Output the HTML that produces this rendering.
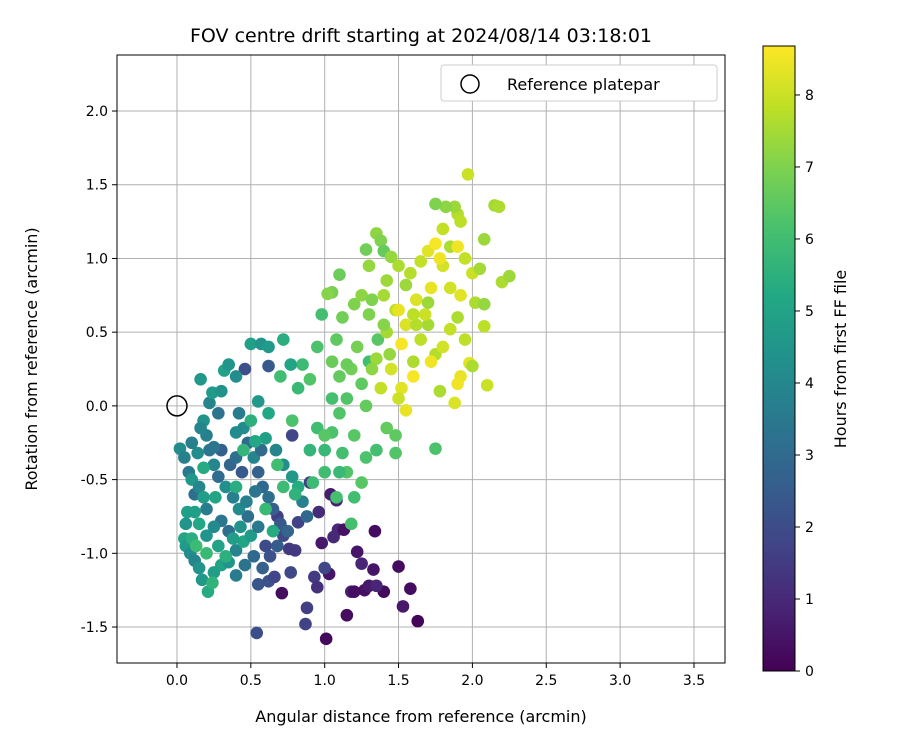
<!DOCTYPE html>
<html><head><meta charset="utf-8"><style>
body{margin:0;background:#fff;font-family:"DejaVu Sans","Liberation Sans",sans-serif}
svg text{font-family:"DejaVu Sans","Liberation Sans",sans-serif;fill:#000}
</style></head><body>
<svg id="chart" width="900" height="750" viewBox="0 0 900 750" xmlns="http://www.w3.org/2000/svg">
<defs><linearGradient id="vir" x1="0" y1="1" x2="0" y2="0">
<stop offset="0" stop-color="#440154"/><stop offset="0.1" stop-color="#482475"/><stop offset="0.2" stop-color="#414487"/><stop offset="0.3" stop-color="#355f8d"/><stop offset="0.4" stop-color="#2a788e"/><stop offset="0.5" stop-color="#21918c"/><stop offset="0.6" stop-color="#22a884"/><stop offset="0.7" stop-color="#44bf70"/><stop offset="0.8" stop-color="#7ad151"/><stop offset="0.9" stop-color="#bddf26"/><stop offset="1" stop-color="#fde725"/>
</linearGradient>
<clipPath id="clip"><rect x="117" y="55" width="608" height="608"/></clipPath></defs>
<text x="421" y="42" font-size="19" text-anchor="middle">FOV centre drift starting at 2024/08/14 03:18:01</text>
<g id="grid"></g>
<g id="points" clip-path="url(#clip)"></g>
<circle id="refpt" r="10" fill="none" stroke="#000" stroke-width="1.5"/>
<rect x="117" y="55" width="608" height="608" fill="none" stroke="#000" stroke-width="1"/>
<g id="ticks"></g>
<text x="421" y="722" font-size="16" text-anchor="middle">Angular distance from reference (arcmin)</text>
<text transform="translate(37,359) rotate(-90)" font-size="16" text-anchor="middle">Rotation from reference (arcmin)</text>
<g>
<rect x="441" y="65" width="276" height="36" rx="3" fill="#fff" stroke="#ccc"/>
<circle cx="470" cy="84" r="9" fill="none" stroke="#000" stroke-width="1.5"/>
<text x="507" y="90" font-size="16">Reference platepar</text>
</g>
<rect x="763" y="46" width="32" height="625" fill="url(#vir)" stroke="#000" stroke-width="1"/>
<g id="cbticks"></g>
<text transform="translate(846,359) rotate(-90)" font-size="16" text-anchor="middle">Hours from first FF file</text>
</svg>
<script>
const xTicks=[0.0,0.5,1.0,1.5,2.0,2.5,3.0,3.5];
const yTicks=[-1.5,-1.0,-0.5,0.0,0.5,1.0,1.5,2.0];
const cbTicks=[0,1,2,3,4,5,6,7,8];
const xs=[0.71,1.01,1.15,1.27,1.40,1.53,1.58,1.63,1.34,1.50,1.22,1.30,1.08,1.04,1.03,1.18,1.25,1.33,1.09,0.96,0.98,1.06,1.13,0.93,0.95,1.00,0.88,0.87,0.77,0.54,0.62,0.66,0.55,0.60,0.80,0.82,0.72,0.68,0.90,0.78,0.46,0.62,0.76,1.35,1.20,
0.02,0.05,0.08,0.10,0.12,0.15,0.18,0.20,0.07,0.06,0.05,0.06,0.09,0.12,0.15,0.17,0.21,0.25,0.30,0.35,0.40,0.45,0.50,0.55,0.48,0.42,0.38,0.33,0.28,0.25,0.22,0.20,0.18,0.16,0.22,0.24,0.28,0.32,0.35,0.42,0.45,0.48,0.52,0.55,0.58,0.62,0.65,0.70,0.75,0.68,0.63,0.58,0.52,0.46,0.40,0.35,0.30,0.25,0.20,0.15,0.12,0.10,0.28,0.33,0.38,0.43,0.47,0.53,0.57,0.60,0.55,0.53,0.50,0.57,0.62,0.72,0.67,0.72,0.78,0.82,0.85,0.88,0.80,0.30,0.36,0.40,0.44,0.26,0.18,0.14,0.10,0.20,0.24,0.13,0.40,0.45,0.50,0.62,0.70,0.60,0.65,0.72,0.68,0.78,0.82,0.90,0.85,0.95,0.98,0.90,0.95,1.00,1.05,1.00,1.08,0.92,1.12,1.15,1.20,1.25,1.18,1.28,1.35,1.48,1.48,1.42,1.36,1.30,1.25,1.15,1.10,1.05,1.08,1.12,1.05,1.10,1.02,1.20,1.25,1.30,1.28,1.35,1.38,1.40,1.45,1.50,1.55,1.48,1.42,1.35,1.38,1.32,1.45,1.52,1.55,1.50,1.60,1.65,1.70,1.75,1.80,1.85,1.90,1.95,1.98,2.00,1.92,1.88,1.90,1.78,1.72,1.68,1.62,1.58,1.65,1.70,1.75,1.72,1.80,1.85,1.90,1.95,2.00,2.05,2.08,2.02,2.08,2.08,2.15,2.18,2.20,2.25,1.97,1.90,1.88,1.92,1.82,1.75,1.80,1.92,1.85,1.55,1.60,1.50,1.44,1.40,1.40,1.30,1.22,1.18,1.28,1.20,1.10,1.05,1.10,1.00,1.75,1.15,1.62,1.70,2.10,1.78,1.52,1.60,1.42,1.32,0.77,0.30,0.40,0.16,0.25,0.40];
const ys=[-1.27,-1.58,-1.42,-1.25,-1.26,-1.36,-1.24,-1.46,-0.85,-1.09,-0.99,-1.22,-0.64,-0.60,-1.14,-1.26,-1.07,-1.11,-0.84,-0.72,-0.93,-0.89,-0.84,-1.16,-1.23,-1.10,-1.37,-1.48,-1.13,-1.54,-1.19,-1.16,-1.21,-0.95,-0.98,-0.79,-0.88,-0.75,-0.52,-0.20,0.25,0.27,-0.97,-1.22,-1.26,
-0.29,-0.35,-0.45,-0.50,-0.60,-0.55,-0.62,-0.70,-0.72,-0.80,-0.90,-0.95,-1.00,-1.05,-1.10,-1.18,-1.26,-1.13,-1.08,-1.06,-0.98,-0.92,-0.88,-0.82,-0.75,-0.70,-0.62,-0.55,-0.48,-0.40,-0.30,-0.20,-0.10,0.18,0.02,0.09,-0.05,0.24,0.28,-0.05,-0.15,-0.25,-0.35,-0.45,-0.55,-0.62,-0.70,-0.80,-0.85,-0.95,-1.02,-1.10,-1.02,-1.08,-1.15,-0.85,-0.78,-0.82,-0.88,-0.80,-0.72,-0.90,-0.95,-1.02,-0.90,-0.82,-0.65,-0.58,-0.30,-0.22,0.03,-0.24,0.42,0.42,0.40,0.45,-0.30,-0.40,-0.48,-0.55,-0.65,-0.75,-0.60,-0.30,-0.40,-0.35,-0.45,-0.62,-0.42,-0.32,-0.25,-1.00,-1.20,-0.95,-0.55,-0.30,-0.10,-0.05,0.20,-0.70,-0.85,-0.55,-0.40,-0.10,0.12,0.18,0.28,0.40,0.62,-0.30,-0.15,-0.30,-0.18,-0.45,-0.62,-0.52,-0.32,-0.45,-0.62,-0.52,-0.80,-0.35,-0.30,-0.20,-0.32,-0.15,0.45,0.30,0.15,0.05,0.20,0.30,0.45,0.60,0.77,0.89,0.76,0.69,0.75,0.95,1.06,1.17,1.12,1.05,1.01,0.95,0.82,0.65,0.50,0.32,0.12,0.25,0.25,0.12,-0.03,0.05,0.30,0.45,0.55,0.35,0.40,0.52,0.60,0.45,0.29,0.27,0.20,0.02,0.15,0.10,0.30,0.62,0.72,0.90,0.98,1.05,1.10,0.80,0.95,1.08,1.08,1.00,0.90,0.93,1.13,0.70,0.54,0.69,1.36,1.35,0.84,0.88,1.57,1.30,1.35,1.25,1.35,1.37,1.20,0.75,0.80,0.55,0.20,0.65,0.35,0.75,0.55,0.62,0.40,0.25,0.00,-0.20,-0.05,0.05,-0.45,-0.20,-0.29,0.28,0.55,0.70,0.14,1.00,0.42,0.62,0.85,0.72,0.28,0.10,0.20,-0.15,-0.28,-0.18];
const hs=[0.3,0.2,0.3,0.4,0.2,0.6,0.3,0.1,0.3,0.3,0.5,0.6,0.8,0.7,0.5,0.8,0.9,0.5,1.0,1.1,0.6,1.0,0.4,1.5,1.2,1.8,1.6,1.7,1.9,2.1,2.2,1.8,2.3,2.0,1.5,1.7,1.9,1.6,1.6,1.8,2.1,2.4,1.4,0.9,0.3,
4.2,3.8,3.5,4.6,3.2,4.0,4.8,3.6,4.9,4.5,5.1,4.7,4.2,3.9,4.4,4.6,5.3,4.8,5.0,4.5,3.9,5.1,4.7,3.5,3.2,4.1,3.7,4.3,3.1,4.0,3.4,3.8,4.4,4.6,3.9,4.7,3.3,5.0,4.5,3.6,4.2,3.0,3.9,2.7,2.9,3.2,2.6,2.4,2.8,2.5,2.2,2.7,2.9,3.3,3.6,3.1,3.4,4.1,4.5,5.2,4.9,5.4,5.0,5.5,4.8,4.4,3.8,3.4,3.0,4.9,4.6,5.2,4.9,4.5,4.7,5.4,3.9,4.3,4.6,5.3,3.7,2.9,5.6,2.6,2.8,3.2,2.4,5.1,5.3,4.2,3.7,5.8,5.6,5.9,5.4,5.7,5.5,5.2,6.0,5.8,5.3,5.9,6.0,6.2,5.8,6.3,5.9,6.2,6.1,5.7,6.0,5.8,6.2,6.0,6.1,5.9,6.1,6.3,6.0,6.4,6.1,6.2,6.1,6.5,6.3,6.6,6.4,6.0,6.5,6.3,6.6,6.7,6.5,6.8,6.9,6.7,7.1,7.0,7.2,7.3,6.8,7.2,7.0,6.6,7.3,7.6,7.4,7.8,7.5,7.4,7.9,7.2,8.1,8.3,8.4,8.0,7.6,7.8,7.5,7.7,8.1,7.9,7.6,7.8,8.3,7.6,8.4,8.2,8.5,7.6,8.5,8.0,8.2,7.7,7.9,8.3,8.6,8.4,8.1,7.6,8.5,7.9,8.0,7.5,7.4,7.6,7.8,7.3,7.5,7.6,7.6,7.4,8.0,7.7,7.4,7.8,7.2,7.0,7.9,8.3,8.1,8.2,8.6,8.4,7.3,7.5,7.1,7.0,6.9,6.8,6.6,6.4,6.3,6.1,5.8,6.4,6.2,6.7,7.7,7.4,8.0,8.5,8.6,7.8,7.4,7.0,5.1,4.4,4.2,3.9,3.4,4.1];
const X0=117,X1=725,Y0=55,Y1=663,xmin=-0.406,xmax=3.71,ymin=-1.744,ymax=2.38;
const sx=v=>X0+(v-xmin)/(xmax-xmin)*(X1-X0);
const sy=v=>Y1-(v-ymin)/(ymax-ymin)*(Y1-Y0);
const hmin=0,hmax=8.68;
const cbY=v=>671-(v-hmin)/(hmax-hmin)*625;
const VS=["#440154","#482475","#414487","#355f8d","#2a788e","#21918c","#22a884","#44bf70","#7ad151","#bddf26","#fde725"];
function vir(t){t=Math.max(0,Math.min(1,t));const p=t*10,i=Math.min(9,Math.floor(p)),f=p-i;
const a=VS[i],b=VS[i+1];const c=k=>Math.round(parseInt(a.substr(k,2),16)*(1-f)+parseInt(b.substr(k,2),16)*f);
return `rgb(${c(1)},${c(3)},${c(5)})`;}
const NS="http://www.w3.org/2000/svg";
function mk(tag,attrs,parent){const e=document.createElementNS(NS,tag);for(const k in attrs)e.setAttribute(k,attrs[k]);parent.appendChild(e);return e;}
const grid=document.getElementById('grid'),ticks=document.getElementById('ticks'),pts=document.getElementById('points'),cbt=document.getElementById('cbticks');
xTicks.forEach(v=>{const x=sx(v);
const g=mk('line',{x1:x,x2:x,y1:Y0,y2:Y1,stroke:'#b0b0b0','stroke-width':1},grid);


const t=mk('line',{x1:x,x2:x,y1:Y1,y2:Y1+5,stroke:'#000'},ticks);


const l=mk('text',{x:x,y:Y1+22,'font-size':14,'text-anchor':'middle'},ticks);l.textContent=v.toFixed(1);

});
yTicks.forEach(v=>{const y=sy(v);
const g=mk('line',{x1:X0,x2:X1,y1:y,y2:y,stroke:'#b0b0b0','stroke-width':1},grid);


const t=mk('line',{x1:X0-5,x2:X0,y1:y,y2:y,stroke:'#000'},ticks);


const l=mk('text',{x:X0-9,y:y+5,'font-size':14,'text-anchor':'end'},ticks);l.textContent=v.toFixed(1);

});
xs.forEach((x,i)=>{const c=mk('circle',{cx:sx(x),cy:sy(ys[i]),r:6.3,fill:vir((hs[i]-hmin)/(hmax-hmin))},pts);

});
const rp=document.getElementById('refpt');rp.setAttribute('cx',sx(0));rp.setAttribute('cy',sy(0));
cbTicks.forEach(v=>{const y=cbY(v);
const t=mk('line',{x1:795,x2:800,y1:y,y2:y,stroke:'#000'},cbt);


const l=mk('text',{x:805,y:y+5,'font-size':14},cbt);l.textContent=v;

});
</script>
</body></html>
